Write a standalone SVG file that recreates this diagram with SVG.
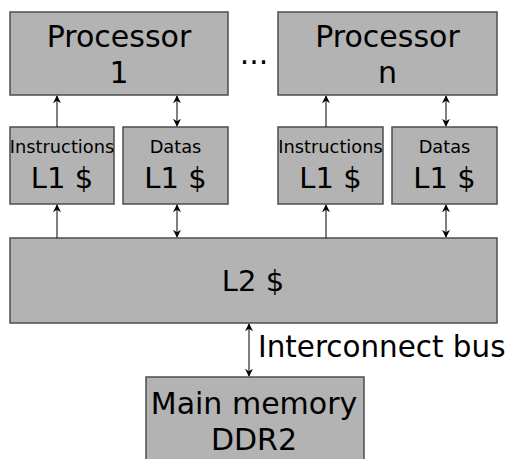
<svg xmlns="http://www.w3.org/2000/svg" width="509" height="459" viewBox="0 0 509 459">
<style>
.box{fill:#b3b3b3;stroke:#4d4d4d;stroke-width:1.5}
text{font-family:"DejaVu Sans",sans-serif;fill:#000;text-anchor:middle}
.big{font-size:30px}
.l1{font-size:29px}
.small{font-size:17.8px}
.conn line{stroke:#000;stroke-width:1}
</style>
<defs>
<marker id="ah" viewBox="0 0 10 10" refX="9" refY="5" markerWidth="8" markerHeight="8" orient="auto-start-reverse" markerUnits="userSpaceOnUse">
<path d="M0,0 L10,5 L0,10 L3,5 Z" fill="#000"/>
</marker>
</defs>
<rect width="509" height="459" fill="#fff"/>
<g id="proc1"><rect class="box" x="10" y="12" width="218" height="83"/><text class="big" x="119" y="47">Processor</text><text class="big" x="119" y="83">1</text></g>
<g id="procn"><rect class="box" x="278" y="12" width="219" height="83"/><text class="big" x="387.5" y="47">Processor</text><text class="big" x="387.5" y="83">n</text></g>
<g id="dots"><text class="big" x="254" y="64">...</text></g>
<g id="il1a"><rect class="box" x="10" y="127" width="104" height="77"/><text class="small" x="62" y="153">Instructions</text><text class="l1" x="62" y="188">L1 $</text></g>
<g id="dl1a"><rect class="box" x="123" y="127" width="105" height="77"/><text class="small" x="175.5" y="153">Datas</text><text class="l1" x="175.5" y="188">L1 $</text></g>
<g id="il1b"><rect class="box" x="278" y="127" width="105" height="77"/><text class="small" x="330.5" y="153">Instructions</text><text class="l1" x="330.5" y="188">L1 $</text></g>
<g id="dl1b"><rect class="box" x="392" y="127" width="105" height="77"/><text class="small" x="444.5" y="153">Datas</text><text class="l1" x="444.5" y="188">L1 $</text></g>
<g id="l2"><rect class="box" x="10" y="238" width="487" height="85"/><text class="l1" x="253" y="291">L2 $</text></g>
<g id="mem"><rect class="box" x="146" y="377" width="218" height="90"/><text class="big" x="254" y="414">Main memory</text><text class="big" x="254" y="450">DDR2</text></g>
<g class="conn" id="connectors">
<line x1="57" y1="127" x2="57" y2="96" marker-end="url(#ah)"/>
<line x1="177" y1="96" x2="177" y2="126" marker-start="url(#ah)" marker-end="url(#ah)"/>
<line x1="326" y1="127" x2="326" y2="96" marker-end="url(#ah)"/>
<line x1="446" y1="96" x2="446" y2="126" marker-start="url(#ah)" marker-end="url(#ah)"/>
<line x1="57" y1="238" x2="57" y2="205" marker-end="url(#ah)"/>
<line x1="177" y1="205" x2="177" y2="237" marker-start="url(#ah)" marker-end="url(#ah)"/>
<line x1="326" y1="238" x2="326" y2="205" marker-end="url(#ah)"/>
<line x1="446" y1="205" x2="446" y2="237" marker-start="url(#ah)" marker-end="url(#ah)"/>
<line x1="249" y1="324" x2="249" y2="376" marker-start="url(#ah)" marker-end="url(#ah)"/>
</g>
<text x="258" y="357" style="font-size:29.4px;text-anchor:start">Interconnect bus</text>
</svg>
